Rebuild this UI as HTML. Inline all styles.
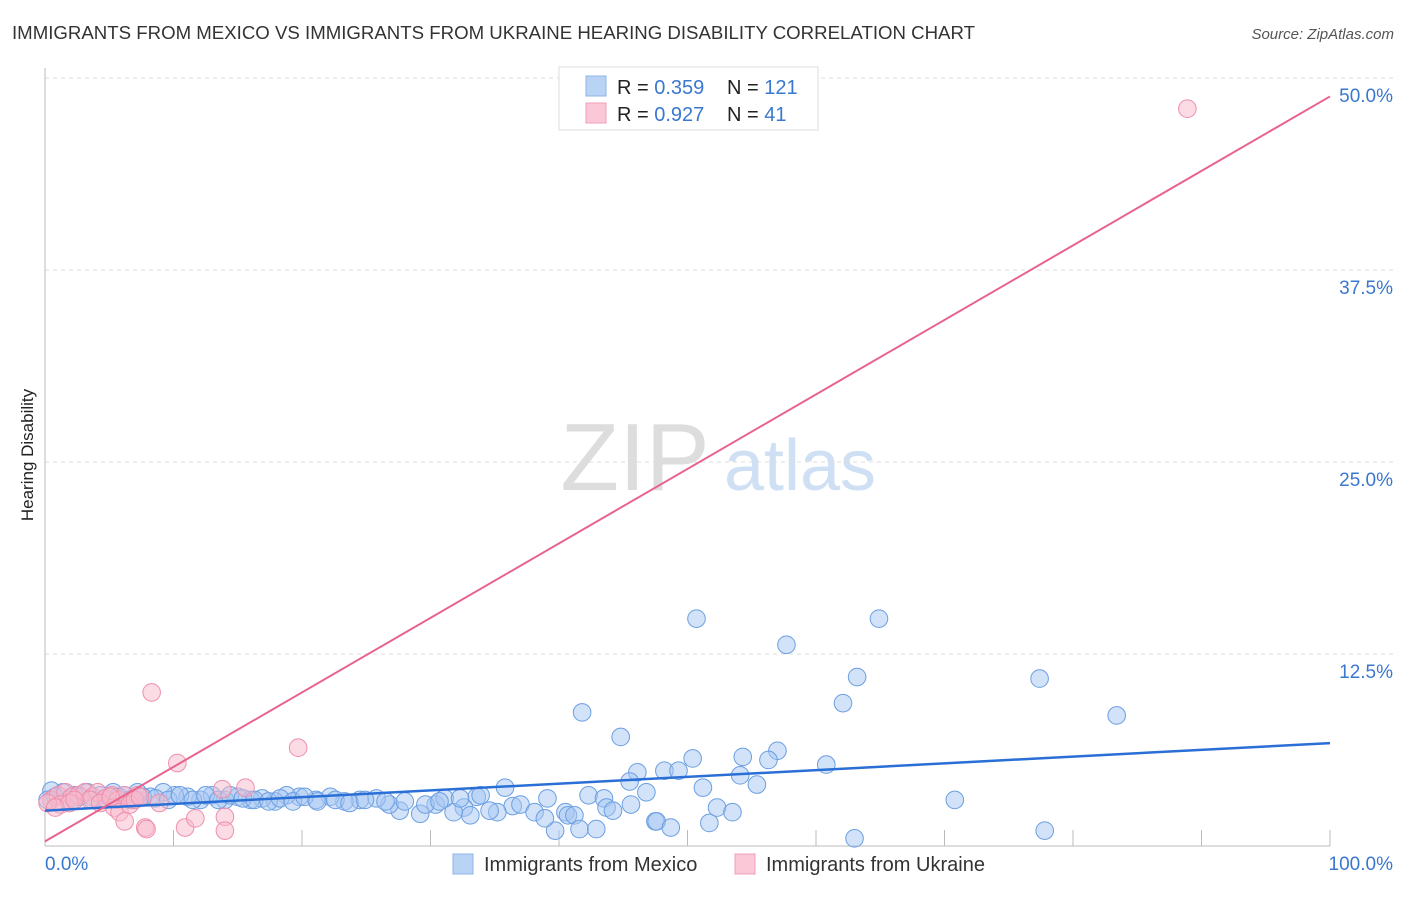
<!DOCTYPE html>
<html><head><meta charset="utf-8"><style>
body{margin:0;background:#fff;width:1406px;height:892px;overflow:hidden;font-family:"Liberation Sans",sans-serif}
svg text{font-family:"Liberation Sans",sans-serif}
</style></head><body>
<svg id="chart" width="1406" height="892">
<text x="12" y="39" font-size="18" fill="#333" textLength="963" lengthAdjust="spacingAndGlyphs">IMMIGRANTS FROM MEXICO VS IMMIGRANTS FROM UKRAINE HEARING DISABILITY CORRELATION CHART</text>
<text x="1394" y="39" font-size="15" fill="#555" font-style="italic" text-anchor="end">Source: ZipAtlas.com</text>
<text x="33" y="455" font-size="17" fill="#222" text-anchor="middle" transform="rotate(-90 33 455)">Hearing Disability</text>
<g><text x="635" y="490" font-size="96" fill="#ddd" font-family="Liberation Serif" text-anchor="middle">ZIP</text><text x="800" y="490" font-size="72" fill="#cfe0f5" text-anchor="middle">atlas</text></g>
<g id="grid"></g><g id="axes"></g><g id="marks"></g><g id="trends"></g>
<g>
<rect x="559" y="67" width="259" height="63" fill="#fff" stroke="#ddd"/>
<rect x="586" y="76" width="20" height="20" fill="#b9d3f5" stroke="#8fb4e8"/>
<rect x="586" y="103" width="20" height="20" fill="#fac8d6" stroke="#f0a0b8"/>
<text x="617" y="94" font-size="20" fill="#222">R = <tspan fill="#3a78d0">0.359</tspan></text>
<text x="727" y="94" font-size="20" fill="#222">N = <tspan fill="#3a78d0">121</tspan></text>
<text x="617" y="121" font-size="20" fill="#222">R = <tspan fill="#3a78d0">0.927</tspan></text>
<text x="727" y="121" font-size="20" fill="#222">N = <tspan fill="#3a78d0"> 41</tspan></text>
</g>
<g>
<rect x="453" y="854" width="20" height="20" fill="#b9d3f5" stroke="#8fb4e8"/>
<text x="484" y="871" font-size="20" fill="#333">Immigrants from Mexico</text>
<rect x="735" y="854" width="20" height="20" fill="#fac8d6" stroke="#f0a0b8"/>
<text x="766" y="871" font-size="20" fill="#333">Immigrants from Ukraine</text>
</g>
</svg>
<script>
const yTicks=[12.5,25,37.5,50];
const yTickLabels=["12.5%","25.0%","37.5%","50.0%"];
const xTickLabels=["0.0%","100.0%"];
const mexicoX=[50.7,64.9,57.7,63.2,62.1,77.4,83.4,41.8,44.8,46.1,48.2,49.3,50.4,54.3,57.0,56.3,60.8,54.1,55.4,51.2,45.5,46.8,39.1,42.3,43.5,43.7,44.2,45.6,40.5,40.7,41.2,41.6,42.9,47.5,47.6,48.7,51.7,52.3,53.5,63.0,70.8,77.8,39.7,35.8,36.4,35.2,33.6,34.6,32.6,33.1,31.8,30.4,31.1,29.2,27.6,26.8,25.8,24.5,23.3,22.2,21.1,19.8,18.8,17.9,16.9,16.0,15.0,14.0,13.0,12.1,11.1,10.1,9.2,8.2,7.2,6.2,5.3,4.3,3.3,2.3,1.4,0.5,0.2,0.8,1.8,2.7,3.7,4.7,5.7,6.6,7.6,8.6,9.6,10.5,11.5,12.5,13.5,14.4,15.4,16.3,17.4,18.3,19.3,20.2,21.2,22.6,23.7,24.9,26.5,28.0,29.6,30.7,32.3,33.9,37.0,38.1,38.9];
const mexicoY=[14.8,14.8,13.1,11.0,9.3,10.9,8.5,8.7,7.1,4.8,4.9,4.9,5.7,5.8,6.2,5.6,5.3,4.6,4.0,3.8,4.2,3.5,3.1,3.3,3.1,2.5,2.3,2.7,2.2,2.0,2.0,1.1,1.1,1.6,1.6,1.2,1.5,2.5,2.2,0.5,3.0,1.0,1.0,3.8,2.6,2.2,3.2,2.3,2.5,2.0,2.2,2.7,3.1,2.1,2.3,2.7,3.1,3.0,2.9,3.2,3.0,3.2,3.3,2.9,3.1,3.0,3.2,3.0,3.3,3.0,3.2,3.3,3.5,3.2,3.5,3.3,3.5,3.3,3.5,3.3,3.5,3.6,3.0,3.2,3.0,3.2,3.0,3.1,3.2,3.0,3.2,3.1,3.0,3.3,3.0,3.3,3.0,3.3,3.1,3.0,2.9,3.1,2.9,3.2,2.9,3.0,2.8,3.0,2.9,2.9,2.7,2.9,3.1,3.3,2.7,2.2,1.8];
const ukraineX=[88.9,8.3,10.3,19.7,0.5,1.0,1.6,2.1,2.6,3.1,3.7,4.1,4.7,5.2,5.7,6.2,6.8,7.2,1.2,1.9,3.5,4.3,5.4,5.8,6.2,7.8,7.9,8.9,6.6,10.9,11.7,13.8,14.0,14.0,15.6,0.2,0.8,2.3,5.1,7.0,7.4];
const ukraineY=[48.0,10.0,5.4,6.4,3.0,3.3,3.5,3.2,3.3,3.5,3.2,3.5,3.1,3.3,3.0,3.3,3.0,3.3,2.7,2.8,3.0,2.8,2.5,2.2,1.6,1.2,1.1,2.8,2.7,1.2,1.8,3.7,1.9,1.0,3.8,2.8,2.5,3.0,3.2,3.0,3.2];
const mexicoTrend=[2.3,6.7];
const ukraineTrend=[0.3,48.8];
const X0=45,X1=1330,Y0=846,PY=15.36;
const sx=v=>X0+(X1-X0)*v/100;
const sy=v=>Y0-v*PY;
const NS="http://www.w3.org/2000/svg";
function mk(t,a,p){const e=document.createElementNS(NS,t);for(const k in a)e.setAttribute(k,a[k]);p.appendChild(e);return e;}
const grid=document.getElementById('grid'),axes=document.getElementById('axes'),marks=document.getElementById('marks'),trends=document.getElementById('trends');
yTicks.forEach((t,i)=>{
  const l=mk('line',{x1:X0,x2:1395,y1:sy(t),y2:sy(t),stroke:'#ddd','stroke-dasharray':'4,4'},grid);
  
  
  const tx=mk('text',{x:1393,y:sy(t)+24,'font-size':19,fill:'#3a78d0','text-anchor':'end'},axes);
  tx.textContent=yTickLabels[i];
  
  
});
const ax=mk('line',{x1:X0,x2:X1,y1:Y0,y2:Y0,stroke:'#bbb'},axes);


const ay=mk('line',{x1:X0,x2:X0,y1:68,y2:Y0,stroke:'#bbb'},axes);


for(let i=1;i<=10;i++){
  const tk=mk('line',{x1:sx(i*10),x2:sx(i*10),y1:Y0-16,y2:Y0,stroke:'#bbb'},axes);
  
  
}
const xl0=mk('text',{x:X0,y:870,'font-size':19,fill:'#3a78d0'},axes);xl0.textContent=xTickLabels[0];


const xl1=mk('text',{x:1393,y:870,'font-size':19,fill:'#3a78d0','text-anchor':'end'},axes);xl1.textContent=xTickLabels[1];


mexicoX.forEach((x,i)=>{
  const c=mk('circle',{cx:sx(x),cy:sy(mexicoY[i]),r:8.8,fill:'rgba(165,198,242,0.5)',stroke:'#6b9fe2','stroke-width':1},marks);
  
  
});
ukraineX.forEach((x,i)=>{
  const c=mk('circle',{cx:sx(x),cy:sy(ukraineY[i]),r:8.8,fill:'rgba(248,185,204,0.5)',stroke:'#ee8fad','stroke-width':1},marks);
  
  
});
const tm=mk('line',{x1:sx(0),y1:sy(mexicoTrend[0]),x2:sx(100),y2:sy(mexicoTrend[1]),stroke:'#2a6fd6','stroke-width':2.5},trends);


const tu=mk('line',{x1:sx(0),y1:sy(ukraineTrend[0]),x2:sx(100),y2:sy(ukraineTrend[1]),stroke:'#e8628d','stroke-width':2},trends);


</script>
</body></html>
